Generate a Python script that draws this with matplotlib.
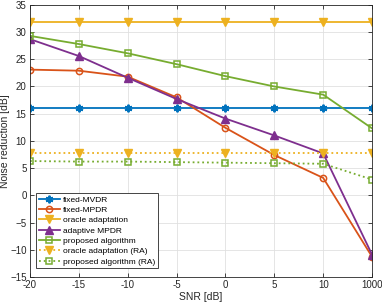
import matplotlib
matplotlib.use("Agg")
import matplotlib.pyplot as plt
import numpy as np

snr_labels = ["-20", "-15", "-10", "-5", "0", "5", "10", "1000"]
fixed_mvdr = [16.1, 16.1, 16.1, 16.1, 16.1, 16.1, 16.1, 16.1]
fixed_mpdr = [23.1, 22.9, 21.8, 18.0, 12.4, 7.4, 3.2, -11.3]
oracle = [31.8, 31.8, 31.8, 31.8, 31.8, 31.8, 31.8, 31.8]
adaptive_mpdr = [28.7, 25.6, 21.6, 17.7, 14.1, 11.0, 7.7, -10.9]
proposed = [29.3, 27.8, 26.1, 24.1, 21.9, 20.0, 18.5, 12.3]
oracle_ra = [7.8, 7.8, 7.8, 7.8, 7.8, 7.8, 7.8, 7.8]
proposed_ra = [6.3, 6.2, 6.2, 6.1, 6.0, 5.9, 5.8, 2.9]

plt.rcParams['font.family'] = ['Liberation Sans', 'DejaVu Sans']
fig = plt.figure(figsize=(3.82, 3.04), dpi=100)
ax = fig.add_axes([0.0785, 0.089, 0.8955, 0.895])
x = np.arange(len(snr_labels))

c_blue = '#0072BD'; c_red = '#D95319'; c_yel = '#EDB120'; c_pur = '#7E2F8E'; c_grn = '#77AC30'
lw = 1.3
ax.plot(x, fixed_mvdr, color=c_blue, lw=lw, marker=(6, 2, 0), ms=5.5, mew=1.4, label='fixed-MVDR')
ax.plot(x, fixed_mpdr, color=c_red, lw=lw, marker='o', ms=4.5, mfc='none', mew=1.1, label='fixed-MPDR')
ax.plot(x, oracle, color=c_yel, lw=lw, marker='v', ms=5.5, label='oracle adaptation')
ax.plot(x, adaptive_mpdr, color=c_pur, lw=lw, marker='^', ms=5.5, label='adaptive MPDR')
ax.plot(x, proposed, color=c_grn, lw=lw, marker='s', ms=4, mfc='none', mew=1.1, label='proposed algorithm')
ax.plot(x, oracle_ra, color=c_yel, lw=lw, ls=':', marker='v', ms=5.5, label='oracle adaptation (RA)')
ax.plot(x, proposed_ra, color=c_grn, lw=lw, ls=':', marker='s', ms=4, mfc='none', mew=1.1, label='proposed algorithm (RA)')

ax.set_xlim(0, 7)
ax.set_ylim(-15, 35)
ax.set_xticks(x)
ax.set_xticklabels(snr_labels)
ax.set_yticks(np.arange(-15, 36, 5))
ax.tick_params(direction='in', labelsize=7, length=3, top=True, right=True, colors='#262626', width=0.6, pad=2.5)
for s in ax.spines.values():
    s.set_color('#262626'); s.set_linewidth(0.6)
ax.grid(True, color='#e0e0e0', lw=0.6)
ax.set_axisbelow(True)
ax.set_xlabel('SNR [dB]', fontsize=7.5, color='#262626', labelpad=1)
ax.set_ylabel('Noise reduction [dB]', fontsize=7.5, color='#262626')
ax.yaxis.set_label_coords(-0.057, 0.5)
leg = ax.legend(loc='lower left', bbox_to_anchor=(0.018, 0.032), fontsize=6, frameon=True,
                fancybox=False, edgecolor='#262626', framealpha=1, handlelength=2.6,
                labelspacing=0.3, borderpad=0.3, handletextpad=0.3, borderaxespad=0)
leg.get_frame().set_linewidth(0.6)
fig.savefig('out.png', dpi=100)
